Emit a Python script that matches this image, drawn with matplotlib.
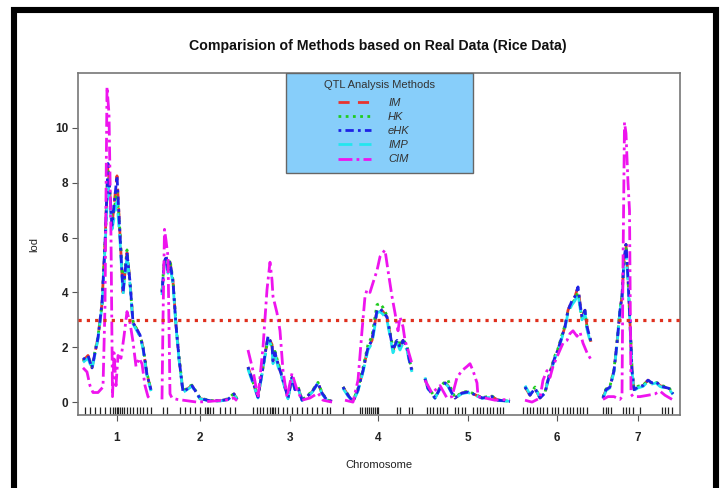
import matplotlib
matplotlib.use("Agg")
import matplotlib.pyplot as plt
from matplotlib.patches import Rectangle
from matplotlib.lines import Line2D

plt.rcParams['font.family'] = ['Liberation Sans', 'DejaVu Sans']

# ---------------- data ----------------
chromosomes = ["1", "2", "3", "4", "5", "6", "7"]
chr_lengths = [68, 75, 84, 70, 88, 68, 72]   # cM
chr_gap = 11
threshold = 3.0
method_names = ["IM", "HK", "eHK", "IMP", "CIM"]
legend_title = "QTL Analysis Methods"

# chromosome 1
chr1_pos = [0, 5, 9, 15, 19, 22, 25, 29, 34, 37, 40, 44, 47, 50, 57, 60, 64, 68]
chr1_im  = [1.50, 1.70, 1.25, 2.35, 3.60, 5.80, 8.70, 6.45, 8.25, 6.10, 4.00, 5.45, 4.40, 2.90, 2.45, 2.00, 1.00, 0.45]
chr1_hk  = [1.50, 1.65, 1.30, 2.40, 3.55, 5.70, 8.50, 6.50, 7.70, 6.20, 4.10, 5.55, 4.30, 2.95, 2.40, 2.05, 1.05, 0.45]
chr1_ehk = [1.55, 1.70, 1.25, 2.35, 3.60, 5.80, 8.70, 6.45, 8.25, 6.10, 4.00, 5.45, 4.40, 2.90, 2.45, 2.00, 1.00, 0.45]
chr1_imp = [1.45, 1.60, 1.20, 2.30, 3.50, 5.60, 8.00, 6.30, 7.30, 5.90, 3.90, 5.30, 4.30, 2.85, 2.40, 1.95, 0.95, 0.40]
chr1_cim_pos = [0, 4, 7, 10, 15, 20, 22, 24, 26, 28, 29.5, 31, 33, 35, 38, 41, 44, 47, 50, 53, 56, 59, 62, 65, 68]
chr1_cim = [1.25, 1.10, 0.60, 0.35, 0.35, 0.55, 3.50, 11.50, 10.50, 6.00, 0.20, 1.80, 0.60, 1.70, 1.60, 2.40, 3.30, 2.90, 2.20, 1.30, 1.60, 1.40, 0.60, 0.20, 0.07]

# chromosome 2
chr2_pos = [0, 2, 4, 6, 8, 11, 14, 17, 21, 26, 30, 34, 38, 48, 58, 66, 72, 75]
chr2_im  = [4.00, 5.00, 5.35, 4.80, 5.10, 4.40, 2.80, 1.60, 0.37, 0.50, 0.60, 0.37, 0.13, 0.05, 0.05, 0.10, 0.30, 0.10]
chr2_hk  = [4.05, 5.05, 5.30, 4.90, 5.20, 4.45, 2.85, 1.65, 0.40, 0.55, 0.62, 0.40, 0.15, 0.06, 0.06, 0.12, 0.32, 0.12]
chr2_ehk = [4.00, 5.00, 5.35, 4.80, 5.10, 4.40, 2.80, 1.60, 0.37, 0.50, 0.60, 0.37, 0.13, 0.05, 0.05, 0.10, 0.30, 0.10]
chr2_imp = [3.90, 4.90, 5.20, 4.70, 5.00, 4.30, 2.75, 1.55, 0.35, 0.48, 0.58, 0.35, 0.12, 0.04, 0.04, 0.09, 0.28, 0.09]
chr2_cim_pos = [0, 1, 2.5, 4, 6, 8, 10, 15, 25, 35, 45, 55, 65, 72, 75]
chr2_cim = [0.10, 3.00, 6.30, 5.90, 5.30, 0.30, 0.15, 0.10, 0.05, 0.00, 0.02, 0.05, 0.08, 0.15, 0.05]

# chromosome 3
chr3_pos = [0, 10, 20, 24, 25, 27, 30, 35, 40, 44, 47, 50, 54, 59, 64, 70, 74, 79, 84]
chr3_im  = [1.28, 0.18, 2.40, 2.10, 1.50, 1.80, 1.40, 0.80, 0.15, 0.90, 0.45, 0.55, 0.07, 0.20, 0.37, 0.70, 0.33, 0.07, 0.03]
chr3_hk  = [1.25, 0.20, 2.30, 2.05, 1.60, 1.85, 1.45, 0.85, 0.18, 0.92, 0.48, 0.58, 0.08, 0.22, 0.40, 0.72, 0.35, 0.08, 0.03]
chr3_ehk = [1.28, 0.18, 2.40, 2.10, 1.50, 1.80, 1.40, 0.80, 0.15, 0.90, 0.45, 0.55, 0.07, 0.20, 0.37, 0.70, 0.33, 0.07, 0.03]
chr3_imp = [1.20, 0.15, 2.30, 2.00, 1.40, 1.70, 1.30, 0.75, 0.12, 0.85, 0.42, 0.52, 0.06, 0.18, 0.35, 0.68, 0.30, 0.06, 0.02]
chr3_cim_pos = [0, 5, 10, 15, 19, 22, 24, 25, 29, 32, 35, 39, 44, 49, 54, 62, 70, 75, 84]
chr3_cim = [1.90, 1.15, 0.15, 2.00, 4.10, 5.10, 4.45, 3.85, 3.25, 2.60, 1.15, 0.18, 1.05, 0.45, 0.07, 0.15, 0.33, 0.07, 0.00]

# chromosome 4
chr4_pos = [0, 5, 10, 15, 20, 25, 29, 32, 34, 37, 40, 44, 47, 50, 54, 57, 60, 64, 67, 69]
chr4_im  = [0.55, 0.25, 0.02, 0.45, 1.15, 2.00, 2.25, 2.90, 3.35, 3.40, 3.30, 3.10, 2.50, 1.90, 2.25, 2.00, 2.25, 2.00, 1.40, 1.15]
chr4_hk  = [0.55, 0.28, 0.05, 0.50, 1.25, 2.10, 2.40, 3.10, 3.55, 3.60, 3.45, 3.15, 2.55, 1.95, 2.30, 2.05, 2.30, 2.05, 1.45, 1.20]
chr4_ehk = [0.55, 0.25, 0.02, 0.45, 1.15, 2.00, 2.25, 2.90, 3.35, 3.40, 3.30, 3.10, 2.50, 1.90, 2.25, 2.00, 2.25, 2.00, 1.40, 1.15]
chr4_imp = [0.50, 0.22, 0.02, 0.40, 1.10, 1.90, 2.15, 2.80, 3.25, 3.30, 3.20, 3.00, 2.40, 1.80, 2.15, 1.90, 2.15, 1.90, 1.35, 1.10]
chr4_cim_pos = [2, 10, 15, 19, 22, 24, 27, 30, 34, 37, 42, 45, 49, 52, 55, 57, 60, 62, 65, 69]
chr4_cim = [0.07, 0.00, 0.80, 2.60, 3.85, 4.10, 4.00, 4.35, 4.80, 5.30, 5.55, 4.80, 3.85, 3.25, 2.60, 3.10, 2.75, 2.25, 1.90, 1.40]

# chromosome 5
chr5_pos = [1, 4, 11, 16, 21, 24, 28, 31, 38, 44, 51, 58, 68, 74, 86]
chr5_im  = [0.85, 0.50, 0.15, 0.50, 0.70, 0.60, 0.33, 0.15, 0.33, 0.37, 0.27, 0.15, 0.20, 0.07, 0.03]
chr5_hk  = [0.85, 0.55, 0.18, 0.55, 0.75, 0.80, 0.40, 0.18, 0.35, 0.40, 0.28, 0.17, 0.22, 0.08, 0.03]
chr5_ehk = [0.85, 0.50, 0.15, 0.50, 0.70, 0.60, 0.33, 0.15, 0.33, 0.37, 0.27, 0.15, 0.20, 0.07, 0.03]
chr5_imp = [0.90, 0.48, 0.14, 0.48, 0.68, 0.58, 0.30, 0.14, 0.31, 0.35, 0.25, 0.14, 0.18, 0.06, 0.03]
chr5_cim_pos = [1, 8, 16, 23, 28, 33, 38, 43, 46, 49, 53, 54, 61, 71, 86]
chr5_cim = [0.80, 0.33, 0.60, 0.15, 0.20, 0.90, 1.15, 1.30, 1.40, 1.15, 0.70, 0.20, 0.15, 0.07, 0.10]

# chromosome 6
chr6_pos = [2, 7, 12, 17, 22, 25, 29, 32, 35, 39, 42, 45, 49, 52, 55, 57, 59, 62, 64, 68]
chr6_im  = [0.55, 0.25, 0.50, 0.15, 0.33, 0.80, 1.30, 1.65, 1.90, 2.40, 2.75, 3.35, 3.70, 3.85, 4.20, 3.60, 3.10, 3.35, 2.75, 2.20]
chr6_hk  = [0.55, 0.30, 0.55, 0.18, 0.35, 0.85, 1.35, 1.70, 1.95, 2.45, 2.80, 3.30, 3.60, 3.75, 4.00, 3.50, 3.05, 3.30, 2.70, 2.15]
chr6_ehk = [0.55, 0.25, 0.50, 0.15, 0.33, 0.80, 1.30, 1.65, 1.90, 2.40, 2.75, 3.35, 3.70, 3.85, 4.20, 3.60, 3.10, 3.35, 2.75, 2.20]
chr6_imp = [0.60, 0.28, 0.52, 0.16, 0.34, 0.78, 1.25, 1.60, 1.85, 2.35, 2.70, 3.25, 3.55, 3.70, 3.95, 3.45, 3.00, 3.25, 2.65, 2.10]
chr6_cim_pos = [2, 9, 17, 20, 24, 27, 30, 34, 37, 40, 44, 47, 50, 54, 57, 60, 64, 68]
chr6_cim = [0.07, 0.00, 0.15, 0.80, 1.15, 0.90, 1.30, 1.65, 1.90, 2.15, 2.25, 2.50, 2.60, 2.40, 2.55, 2.15, 1.80, 1.55]

# chromosome 7
chr7_pos = [1, 4, 8, 12, 15, 18, 20, 22, 24, 26, 28, 30, 32, 36, 41, 46, 50, 54, 58, 62, 67, 71]
chr7_im  = [0.15, 0.45, 0.55, 1.15, 2.15, 3.35, 3.85, 5.20, 5.75, 4.55, 2.90, 1.15, 0.45, 0.55, 0.60, 0.80, 0.70, 0.75, 0.60, 0.55, 0.50, 0.30]
chr7_hk  = [0.18, 0.48, 0.58, 1.20, 2.20, 3.40, 3.90, 5.10, 5.60, 4.50, 2.95, 1.20, 0.50, 0.58, 0.62, 0.78, 0.68, 0.72, 0.62, 0.58, 0.52, 0.32]
chr7_ehk = [0.15, 0.45, 0.55, 1.15, 2.15, 3.35, 3.85, 5.20, 5.75, 4.55, 2.90, 1.15, 0.45, 0.55, 0.60, 0.80, 0.70, 0.75, 0.60, 0.55, 0.50, 0.30]
chr7_imp = [0.12, 0.42, 0.52, 1.10, 2.10, 3.30, 3.80, 5.00, 5.50, 4.40, 2.85, 1.10, 0.42, 0.52, 0.57, 0.75, 0.66, 0.70, 0.57, 0.52, 0.47, 0.28]
chr7_cim_pos = [1, 6, 12, 18, 20, 21, 22.5, 24, 26, 27.5, 29, 31, 38, 46, 53, 58, 63, 70]
chr7_cim = [0.10, 0.20, 0.20, 0.10, 0.20, 5.00, 10.20, 9.80, 8.00, 7.00, 0.30, 0.20, 0.20, 0.25, 0.30, 0.40, 0.25, 0.10]

# marker positions (rug)
chr1_markers = [2, 7, 12, 17, 22, 27, 30, 32, 34, 35, 37, 39, 41, 44, 47, 50, 54, 57, 60, 64, 68]
chr2_markers = [1, 5, 18, 23, 28, 33, 38, 43, 45, 46, 48, 51, 58, 63, 68, 73]
chr3_markers = [5, 9, 12, 15, 19, 22, 24, 25, 27, 30, 35, 39, 44, 49, 54, 59, 64, 69, 74, 79, 82]
chr4_markers = [0, 17, 19, 22, 24, 26, 28, 30, 32, 34, 35, 54, 57, 66, 69]
chr5_markers = [3, 6, 9, 13, 16, 19, 23, 31, 34, 38, 41, 49, 53, 56, 59, 63, 66, 69, 73, 76, 79]
chr6_markers = [0, 4, 7, 10, 14, 17, 20, 24, 29, 32, 35, 40, 44, 47, 50, 54, 57, 60, 64]
chr7_markers = [1, 4, 6, 9, 21, 24, 27, 31, 38, 60, 63, 66, 70]

chr_data = [
    (chr1_pos, chr1_im, chr1_hk, chr1_ehk, chr1_imp, chr1_cim_pos, chr1_cim, chr1_markers),
    (chr2_pos, chr2_im, chr2_hk, chr2_ehk, chr2_imp, chr2_cim_pos, chr2_cim, chr2_markers),
    (chr3_pos, chr3_im, chr3_hk, chr3_ehk, chr3_imp, chr3_cim_pos, chr3_cim, chr3_markers),
    (chr4_pos, chr4_im, chr4_hk, chr4_ehk, chr4_imp, chr4_cim_pos, chr4_cim, chr4_markers),
    (chr5_pos, chr5_im, chr5_hk, chr5_ehk, chr5_imp, chr5_cim_pos, chr5_cim, chr5_markers),
    (chr6_pos, chr6_im, chr6_hk, chr6_ehk, chr6_imp, chr6_cim_pos, chr6_cim, chr6_markers),
    (chr7_pos, chr7_im, chr7_hk, chr7_ehk, chr7_imp, chr7_cim_pos, chr7_cim, chr7_markers),
]

# ---------------- styles ----------------
styles = {
    "IM":  dict(color="#E8342E", ls=(0, (4, 3))),
    "HK":  dict(color="#1FCC1F", ls=(0, (1, 1.6))),
    "eHK": dict(color="#1E22E6", ls=(0, (1, 1.5, 3, 1.5))),
    "IMP": dict(color="#22E6EE", ls=(0, (5, 2.5))),
    "CIM": dict(color="#EE14EE", ls=(0, (5, 1.5, 1, 1.5))),
}
LW = 2.0

fig = plt.figure(figsize=(7.22, 4.88), dpi=100)
ax = fig.add_axes([78 / 722, 73 / 488, 602 / 722, 342 / 488])

# chromosome offsets
starts = []
s = 0
for L in chr_lengths:
    starts.append(s)
    s += L + chr_gap
centers = [st + L / 2 for st, L in zip(starts, chr_lengths)]

for st, d in zip(starts, chr_data):
    pos, im, hk, ehk, imp, cpos, cim, mk = d
    gx = [st + p for p in pos]
    gcx = [st + p for p in cpos]
    ax.plot(gx, im, lw=LW, zorder=3, color=styles["IM"]["color"], linestyle=styles["IM"]["ls"])
    ax.plot(gx, hk, lw=LW, zorder=3, color=styles["HK"]["color"], linestyle=styles["HK"]["ls"])
    ax.plot(gx, imp, lw=LW, zorder=3, color=styles["IMP"]["color"], linestyle=styles["IMP"]["ls"])
    ax.plot(gx, ehk, lw=LW, zorder=4, color=styles["eHK"]["color"], linestyle=styles["eHK"]["ls"])
    ax.plot(gcx, cim, lw=LW, zorder=5, color=styles["CIM"]["color"], linestyle=styles["CIM"]["ls"])
    ax.vlines([st + m for m in mk], -0.44, -0.17, color="#222222", lw=0.9, zorder=2)

ax.axhline(threshold, color="#E0301E", lw=2.3, ls=(0, (1, 1.6)), zorder=6)

total = starts[-1] + chr_lengths[-1]
ax.set_xlim(-5, total + 6)
ax.set_ylim(-0.47, 12.0)

ax.set_xticks(centers)
ax.set_xticklabels(chromosomes)
ax.set_yticks([0, 2, 4, 6, 8, 10])
ax.tick_params(axis="both", direction="out", length=4, width=0.8, color="#555555",
               labelsize=8.5, labelcolor="#222222", pad=3)
ax.tick_params(axis="x", pad=8)
for t in ax.get_xticklabels() + ax.get_yticklabels():
    t.set_fontweight("bold")
for sp in ax.spines.values():
    sp.set_color("#777777")
    sp.set_linewidth(1.2)

ax.set_xlabel("Chromosome", fontsize=8, color="#222222", labelpad=12)
ax.set_ylabel("lod", fontsize=8, color="#222222", labelpad=11)
fig.text(378 / 722, 1 - 46 / 488, "Comparision of Methods based on Real Data (Rice Data)",
         ha="center", va="center", fontsize=10.2, fontweight="bold", color="#111111")

# legend
ax.add_patch(Rectangle((0.3455, 0.7076), 0.3106, 0.2924, transform=ax.transAxes,
                       facecolor="#87CEFA", edgecolor="#666666", lw=1.0, zorder=7))
handles = [Line2D([0], [0], color=styles[m]["color"], linestyle=styles[m]["ls"], lw=LW)
           for m in method_names]
leg = ax.legend(handles, method_names, loc="upper left", bbox_to_anchor=(0.432, 0.927),
                frameon=False, handlelength=3.0, handletextpad=1.5, labelspacing=0.37,
                borderpad=0, borderaxespad=0, prop={"size": 8, "style": "italic"})
leg.set_zorder(8)
for t in leg.get_texts():
    t.set_color("#333333")
ax.text(0.5, 1 - 12 / 342, legend_title, transform=ax.transAxes, ha="center", va="center",
        fontsize=8, color="#333333", zorder=9)

# outer black frame
fig.add_artist(Rectangle((14 / 722, -0.05), (716 - 14) / 722, (478 / 488) + 0.05,
                         transform=fig.transFigure, fill=False, edgecolor="black",
                         lw=4.4, zorder=10))

fig.savefig("out.png", dpi=100)
